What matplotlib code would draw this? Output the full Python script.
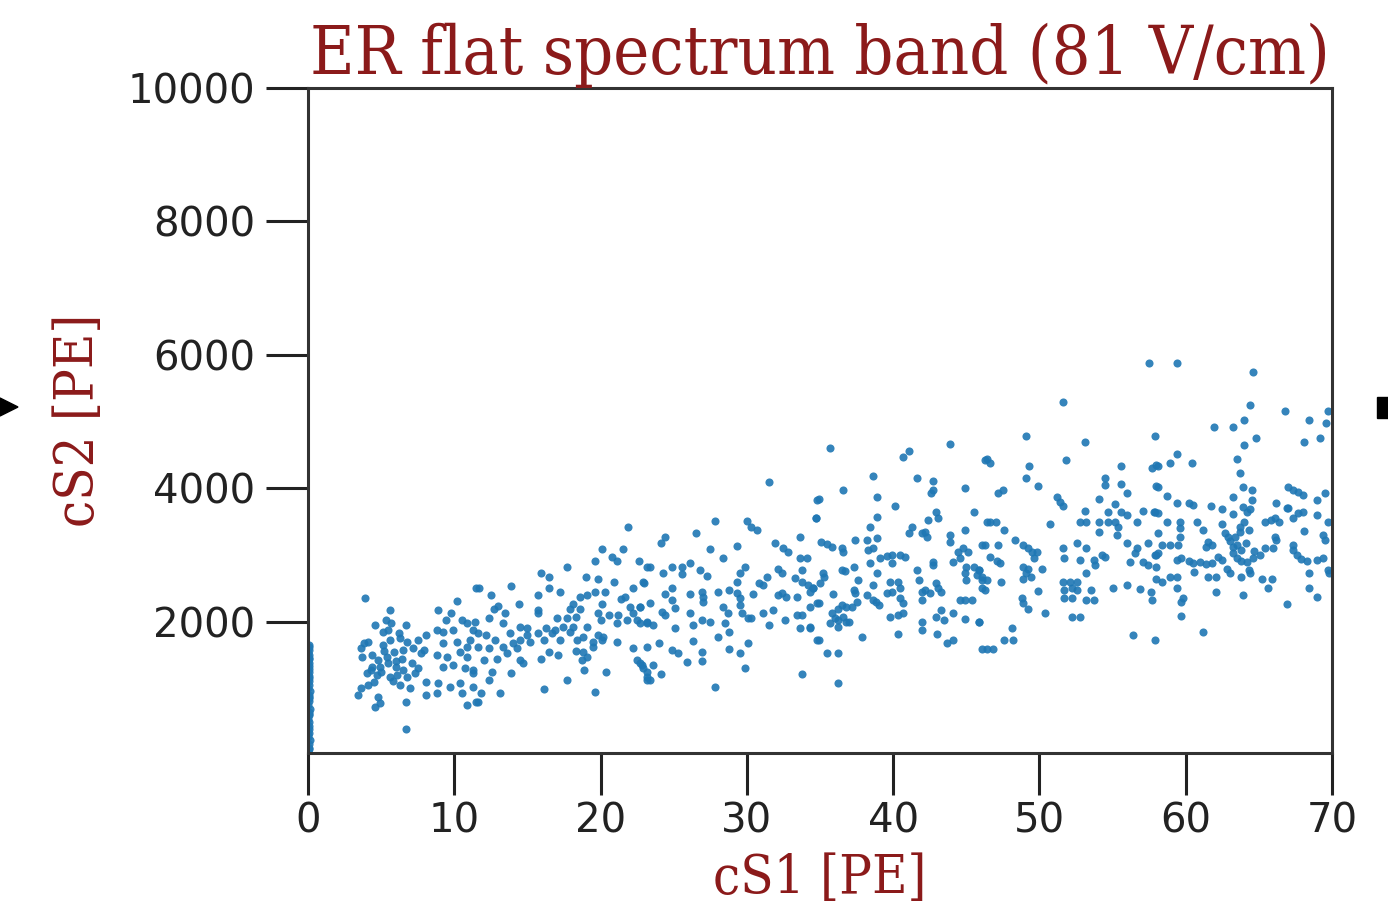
import matplotlib
matplotlib.use("Agg")
import matplotlib.pyplot as plt
from matplotlib.patches import Polygon, Rectangle

title = "ER flat spectrum band (81 V/cm)"
xlabel = "cS1 [PE]"
ylabel = "cS2 [PE]"
xticks = [0, 10, 20, 30, 40, 50, 60, 70]
yticks = [2000, 4000, 6000, 8000, 10000]

# points stuck at cS1 ~ 0
s1_zero = [0.03, 0.08, 0.05, 0.12, 0.02, 0.06, 0.10, 0.04, 0.07, 0.03, 0.09, 0.05, 0.11, 0.02, 0.06,
           0.08, 0.04, 0.13, 0.03, 0.07, 0.05, 0.09, 0.02, 0.06, 0.10, 0.04, 0.08, 0.03, 0.05, 0.07,
           0.02, 0.06, 0.09, 0.04, 0.05, 0.03, 0.08, 0.06, 0.04, 0.05]
s2_zero = [60, 110, 170, 230, 280, 340, 390, 440, 500, 550, 600, 650, 700, 760, 810,
           860, 910, 960, 1010, 1060, 1110, 1160, 1210, 1250, 1300, 1340, 1380, 1420, 1460, 1500,
           1540, 1580, 1620, 1650, 90, 310, 620, 880, 1190, 1440]

# band, cS1 3-12 PE
s1_a = [3.9, 5.6, 4.6, 5.3, 5.7, 6.7, 5.1, 5.5, 6.2, 3.8, 4.1, 3.6, 5.1, 5.6, 6.3, 6.8, 7.5, 8.1,
        3.7, 4.4, 4.8, 5.4, 5.9, 6.5, 7.2, 7.7, 4.4, 4.9, 5.5, 6.0, 6.5, 7.1, 7.5, 4.0, 4.7, 5.6,
        6.1, 6.8, 7.3, 8.1, 3.6, 4.1, 6.3, 7.0, 3.4, 4.8, 4.6, 4.9, 6.7, 8.1, 6.7, 8.9, 9.8, 10.2,
        9.4, 10.5, 10.9, 8.8, 9.2, 9.9, 11.3, 9.2, 10.2, 10.9, 8.8, 9.5, 10.4, 10.9, 9.2, 9.9, 10.7,
        11.3, 8.9, 9.7, 10.4, 8.8, 10.5, 10.9, 11.5, 11.5, 5.2, 4.3, 6.0, 5.8, 7.9, 4.5, 5.0, 6.4]
s2_a = [2360, 2180, 1950, 2030, 1985, 1950, 1850, 1880, 1830, 1680, 1700, 1610, 1650, 1730, 1760, 1700, 1730, 1800,
        1475, 1500, 1430, 1475, 1550, 1580, 1610, 1530, 1330, 1330, 1390, 1330, 1280, 1390, 1310, 1240, 1210, 1180,
        1210, 1180, 1240, 1100, 1010, 1060, 1060, 1010, 900, 880, 730, 790, 800, 900, 400, 2180, 2130, 2310,
        2030, 2030, 1985, 1880, 1850, 1880, 1880, 1680, 1700, 1630, 1500, 1475, 1550, 1475, 1330, 1360, 1310,
        1240, 1090, 1030, 1090, 930, 930, 760, 800, 2510, 1560, 1280, 1420, 1120, 1580, 1100, 1250, 1450]

# band, cS1 11-23 PE
s1_b = [21.9, 20.1, 21.5, 19.6, 20.8, 21.1, 22.6, 23.2, 17.7, 15.9, 16.5, 19.0, 19.8, 20.9, 22.9,
        11.7, 13.9, 16.5, 17.2, 12.5, 15.7, 18.6, 19.1, 19.6, 20.3, 21.7, 22.2, 14.4, 18.1, 20.1,
        22.0, 22.7, 12.7, 15.7, 17.9, 18.6, 13.5, 15.7, 19.8, 20.6, 21.2, 22.2, 12.4, 11.4, 13.3,
        17.0, 17.7, 18.3, 20.0, 21.1, 21.8, 22.5, 23.2, 14.5, 15.0, 16.3, 17.4, 18.1, 19.1, 11.6,
        12.2, 13.8, 15.0, 15.7, 16.7, 17.9, 18.8, 19.8, 20.2, 11.1, 12.8, 14.5, 15.2, 16.1, 17.2,
        18.4, 19.5, 20.1, 21.1, 22.2, 11.6, 12.4, 13.3, 13.6, 14.3, 16.5, 17.1, 18.8, 19.5, 12.0,
        12.9, 14.5, 15.9, 18.7, 19.1, 22.5, 22.8, 11.3, 12.6, 14.7, 13.9, 18.9, 20.4, 23.2, 23.2,
        17.7, 12.4, 11.3, 11.8, 13.1, 16.1, 19.6, 11.6, 14.0, 16.9, 21.4, 18.3, 13.0]
s2_b = [3420, 3090, 3090, 2910, 2970, 2910, 2910, 2820, 2820, 2730, 2670, 2670, 2640, 2600, 2600,
        2510, 2540, 2510, 2450, 2400, 2400, 2370, 2400, 2450, 2450, 2370, 2510, 2270, 2270, 2270,
        2220, 2220, 2200, 2180, 2200, 2200, 2130, 2130, 2130, 2100, 2100, 2130, 2060, 2000, 1985,
        2060, 2060, 2080, 2030, 1985, 2030, 2030, 1985, 1930, 1910, 1910, 1930, 1930, 1930, 1830,
        1800, 1830, 1800, 1830, 1830, 1850, 1780, 1800, 1780, 1730, 1730, 1730, 1700, 1730, 1730,
        1730, 1700, 1730, 1700, 1610, 1630, 1610, 1630, 1530, 1610, 1550, 1500, 1550, 1630, 1430,
        1450, 1430, 1450, 1430, 1475, 1430, 1360, 1280, 1250, 1390, 1240, 1280, 1250, 1250, 1130,
        1130, 1130, 1030, 930, 930, 990, 950, 800, 1680, 1880, 2350, 1560, 2240]

# band, cS1 23-35 PE
s1_c = [31.5, 34.8, 34.7, 27.8, 30.0, 30.3, 30.7, 26.5, 24.4, 24.1, 33.6, 27.5, 29.3, 31.9, 32.5,
        32.8, 28.4, 33.6, 34.1, 23.4, 24.9, 25.6, 26.1, 25.6, 26.8, 27.3, 24.3, 29.9, 29.5, 29.3,
        32.1, 32.4, 31.4, 33.3, 33.8, 33.8, 34.2, 34.5, 23.0, 30.8, 31.1, 24.9, 24.4, 26.1, 26.9,
        27.0, 28.0, 28.8, 29.3, 29.5, 30.4, 32.1, 32.4, 32.7, 33.4, 34.3, 34.8, 22.7, 23.4, 24.9,
        25.1, 26.1, 27.0, 28.4, 28.7, 29.5, 29.7, 30.1, 31.1, 31.8, 33.4, 33.8, 24.2, 24.4, 22.7,
        23.2, 23.6, 25.1, 26.3, 26.9, 27.5, 28.5, 28.8, 30.3, 31.5, 32.6, 33.6, 34.3, 23.2, 24.0,
        24.9, 25.3, 26.3, 26.9, 26.9, 28.0, 28.8, 29.5, 30.1, 25.9, 22.7, 22.9, 23.6, 23.2, 23.4,
        24.1, 29.9, 33.8, 27.8, 34.8]
s2_c = [4100, 3830, 3560, 3510, 3510, 3420, 3380, 3330, 3270, 3180, 3270, 3090, 3140, 3180, 3110,
        3050, 2960, 2960, 2960, 2820, 2820, 2820, 2880, 2720, 2780, 2690, 2730, 2820, 2730, 2600,
        2790, 2730, 2670, 2660, 2780, 2600, 2550, 2510, 2590, 2590, 2550, 2510, 2420, 2420, 2450,
        2370, 2450, 2480, 2430, 2360, 2420, 2400, 2430, 2370, 2370, 2450, 2280, 2220, 2280, 2330,
        2210, 2130, 2300, 2220, 2130, 2250, 2130, 2060, 2130, 2180, 2100, 2100, 2150, 2100, 1985,
        2000, 1955, 1910, 1955, 2030, 2000, 1985, 1850, 2060, 1955, 2030, 1910, 1910, 1630, 1690,
        1580, 1530, 1720, 1550, 1420, 1780, 1600, 1530, 1690, 1400, 1390, 1310, 1360, 1180, 1130,
        1220, 1310, 1220, 1030, 1730]

# band, cS1 34-47 PE
s1_d = [35.7, 43.9, 41.1, 40.7, 38.6, 41.6, 42.7, 42.7, 42.6, 44.9, 46.3, 36.6, 34.9, 38.9, 40.1,
        34.7, 38.9, 42.9, 43.1, 42.4, 45.5, 38.4, 41.3, 41.1, 42.0, 42.3, 42.2, 43.9, 43.9, 44.9,
        46.4, 35.1, 35.5, 35.8, 36.5, 36.6, 37.4, 38.2, 38.9, 38.3, 38.6, 44.4, 44.8, 45.1, 46.1,
        38.4, 39.1, 39.6, 39.9, 40.5, 40.8, 39.9, 42.7, 42.7, 44.1, 44.6, 45.0, 45.5, 45.9, 35.2,
        35.3, 36.5, 36.7, 37.3, 37.6, 38.9, 41.6, 41.8, 44.9, 45.0, 45.7, 46.1, 34.5, 35.0, 35.9,
        37.3, 37.4, 38.6, 39.8, 40.3, 40.5, 39.6, 39.9, 42.0, 42.2, 42.5, 42.9, 43.1, 43.3, 42.0,
        34.9, 34.3, 36.2, 36.5, 36.8, 37.2, 37.5, 38.2, 38.6, 38.8, 39.0, 40.5, 40.7, 44.6, 44.9,
        45.4, 46.3, 35.8, 36.0, 36.2, 36.6, 36.8, 39.8, 40.3, 40.7, 42.9, 43.3, 43.5, 44.1, 44.9,
        45.9, 35.7, 36.2, 37.0, 42.0, 42.0, 34.3, 34.9, 37.9, 40.3, 43.0, 43.7, 44.1, 46.1, 35.5,
        36.2, 36.2]
s2_d = [4610, 4660, 4560, 4470, 4190, 4150, 4110, 3980, 3930, 4010, 4430, 3970, 3840, 3870, 3740,
        3560, 3570, 3650, 3560, 3530, 3650, 3420, 3420, 3330, 3330, 3270, 3350, 3300, 3200, 3380,
        3500, 3200, 3170, 3120, 3110, 3050, 3230, 3230, 3260, 3080, 3110, 3050, 3110, 3050, 3150,
        2880, 2960, 2990, 3000, 3000, 2970, 2880, 2900, 2850, 2900, 2960, 2820, 2820, 2780, 2730,
        2670, 2780, 2760, 2820, 2630, 2730, 2780, 2630, 2730, 2630, 2700, 2630, 2510, 2580, 2420,
        2480, 2430, 2550, 2600, 2600, 2510, 2430, 2450, 2450, 2480, 2430, 2580, 2510, 2450, 2330,
        2280, 2220, 2200, 2250, 2220, 2220, 2300, 2400, 2330, 2300, 2250, 2360, 2280, 2330, 2330,
        2330, 2480, 2130, 2060, 2030, 2080, 2000, 2080, 2100, 2130, 2080, 2180, 2030, 2130, 2050,
        2000, 1985, 1930, 2000, 2000, 1880, 1930, 1730, 1780, 1820, 1820, 1690, 1730, 1590, 1530,
        1530, 1090]

# band, cS1 46-58 PE
s1_e = [51.6, 49.1, 53.1, 57.9, 46.4, 46.6, 49.3, 51.8, 49.1, 49.9, 55.6, 57.7, 58.0, 54.5, 54.5,
        55.6, 58.0, 47.2, 47.5, 51.2, 51.4, 51.6, 54.1, 56.0, 55.2, 53.1, 52.8, 53.2, 54.1, 54.1,
        54.7, 54.7, 55.2, 55.4, 55.3, 55.6, 56.0, 56.7, 57.1, 57.9, 46.6, 47.0, 47.6, 48.3, 50.7,
        46.3, 47.2, 48.9, 49.2, 49.5, 49.8, 49.6, 51.6, 52.6, 53.2, 56.0, 57.4, 56.5, 56.7, 58.0,
        46.6, 47.1, 47.3, 51.7, 52.8, 53.7, 53.8, 54.3, 54.5, 56.2, 57.1, 57.4, 45.9, 46.1, 46.4,
        47.4, 48.9, 49.2, 49.1, 49.4, 48.9, 50.2, 53.2, 51.6, 52.1, 52.6, 51.7, 52.2, 52.6, 53.5,
        55.0, 56.0, 56.9, 57.6, 58.0, 46.1, 49.9, 48.8, 48.9, 49.2, 51.7, 52.2, 53.2, 53.7, 57.7,
        50.4, 52.2, 52.8, 45.9, 48.1, 47.6, 48.2, 46.4, 46.8, 56.4, 57.9]
s2_e = [5300, 4790, 4700, 4790, 4440, 4380, 4340, 4430, 4150, 4030, 4340, 4310, 4350, 4150, 4050,
        4070, 4030, 3930, 3980, 3870, 3800, 3740, 3840, 3930, 3770, 3660, 3500, 3500, 3500, 3350,
        3650, 3500, 3500, 3420, 3300, 3650, 3600, 3500, 3660, 3650, 3500, 3500, 3380, 3230, 3470,
        3150, 3150, 3150, 3110, 3050, 3050, 2960, 3110, 3180, 3110, 3180, 3180, 3030, 3110, 3000,
        2970, 2920, 2880, 2960, 2930, 2930, 2850, 3000, 2970, 2900, 2900, 2850, 2780, 2670, 2630,
        2600, 2820, 2800, 2730, 2670, 2650, 2800, 2730, 2600, 2600, 2600, 2480, 2510, 2480, 2480,
        2510, 2550, 2490, 2450, 2650, 2510, 2460, 2360, 2280, 2190, 2360, 2360, 2330, 2330, 2330,
        2130, 2080, 2080, 2000, 1910, 1730, 1730, 1590, 1590, 1800, 1730]

# band, cS1 57-70 PE
s1_f = [57.5, 59.4, 64.6, 64.4, 66.8, 69.7, 68.4, 69.6, 61.9, 63.2, 64.0, 64.8, 68.1, 69.2, 64.0,
        59.4, 60.4, 58.9, 58.1, 63.5, 63.7, 58.1, 63.9, 64.5, 67.0, 67.3, 67.7, 68.0, 69.5, 58.7,
        59.4, 60.2, 60.5, 61.7, 62.5, 63.2, 63.9, 64.2, 64.4, 64.5, 66.2, 66.9, 67.0, 69.0, 57.8,
        58.1, 58.7, 59.6, 60.8, 61.2, 62.5, 63.2, 63.7, 63.7, 64.0, 64.3, 65.4, 65.8, 66.1, 66.4,
        67.3, 67.7, 68.0, 69.0, 68.1, 69.7, 58.1, 59.6, 59.6, 61.5, 61.8, 61.4, 62.9, 63.2, 63.5,
        63.8, 66.1, 66.2, 66.0, 67.3, 67.3, 69.4, 69.5, 58.4, 58.9, 59.5, 57.9, 58.1, 59.4, 59.7,
        60.2, 60.5, 61.0, 61.4, 61.8, 62.2, 62.5, 63.2, 63.5, 63.8, 64.2, 64.6, 65.1, 65.4, 67.6,
        67.9, 68.3, 69.0, 69.4, 58.0, 58.9, 59.4, 60.6, 61.5, 62.1, 62.8, 63.0, 63.8, 64.3, 64.4,
        68.4, 69.7, 69.8, 58.4, 65.2, 65.9, 59.4, 65.6, 68.4, 62.1, 63.9, 69.0, 59.8, 59.7, 66.9,
        59.7, 61.2, 63.4, 64.1, 63.0, 64.7, 62.7]
s2_f = [5880, 5880, 5750, 5250, 5160, 5160, 5030, 4980, 4920, 4920, 5030, 4760, 4700, 4760, 4650,
        4520, 4380, 4380, 4340, 4440, 4230, 4020, 4020, 3980, 4020, 3980, 3950, 3900, 3930, 3890,
        3780, 3780, 3750, 3740, 3690, 3870, 3720, 3650, 3690, 3830, 3780, 3710, 3710, 3830, 3650,
        3630, 3500, 3500, 3500, 3380, 3470, 3620, 3420, 3350, 3500, 3380, 3500, 3530, 3560, 3500,
        3560, 3630, 3650, 3600, 3360, 3500, 3330, 3410, 3270, 3200, 3150, 3120, 3270, 3120, 3150,
        3080, 3270, 3230, 3110, 3150, 3080, 3300, 3230, 3150, 3150, 3150, 3000, 3030, 2930, 2960,
        2910, 2880, 2900, 2870, 2880, 2970, 2930, 3030, 2960, 2910, 2900, 2960, 3000, 3110, 3000,
        2940, 2910, 2930, 2960, 2820, 2670, 2670, 2750, 2670, 2670, 2800, 2730, 2670, 2780, 2730,
        2730, 2780, 2730, 2600, 2640, 2640, 2510, 2510, 2510, 2450, 2400, 2370, 2360, 2300, 2270,
        2090, 1850, 3280, 3180, 3220, 3060, 3340]

cs1 = s1_zero + s1_a + s1_b + s1_c + s1_d + s1_e + s1_f
cs2 = s2_zero + s2_a + s2_b + s2_c + s2_d + s2_e + s2_f

dark_red = "#8b1a1a"
fig = plt.figure(figsize=(13.88, 9.02), dpi=100)
ax = fig.add_axes([308/1388, 1-753/902, (1332-308)/1388, (753-88)/902])
ax.scatter(cs1, cs2, s=34, color="#1f77b4", linewidths=0, marker="o", alpha=0.9)
ax.set_xlim(0, 70)
ax.set_ylim(37, 10000)
ax.set_xticks(xticks)
ax.set_yticks(yticks)
ax.tick_params(axis="both", labelsize=29, length=30, width=2.2, colors="#222222", pad=8)
ax.tick_params(axis="x", pad=5)
for sp in ax.spines.values():
    sp.set_linewidth(2.2)
    sp.set_color("#333333")

serif = dict(family="DejaVu Serif", stretch="condensed", color=dark_red)
ax.set_title(title, fontsize=49, pad=6, **serif)
ax.set_xlabel(xlabel, fontsize=39, labelpad=8, **serif)
ax.set_ylabel(ylabel, fontsize=39, labelpad=16, **serif)

# stray edge marks seen at the figure border
fig.patches.append(Polygon([[0, 1-398/902], [18/1388, 1-407/902], [0, 1-416/902]],
                           closed=True, transform=fig.transFigure, color="black"))
fig.patches.append(Rectangle((1377/1388, 1-418/902), 11/1388, 21/902,
                             transform=fig.transFigure, color="black"))

fig.savefig("out.png", dpi=100)
